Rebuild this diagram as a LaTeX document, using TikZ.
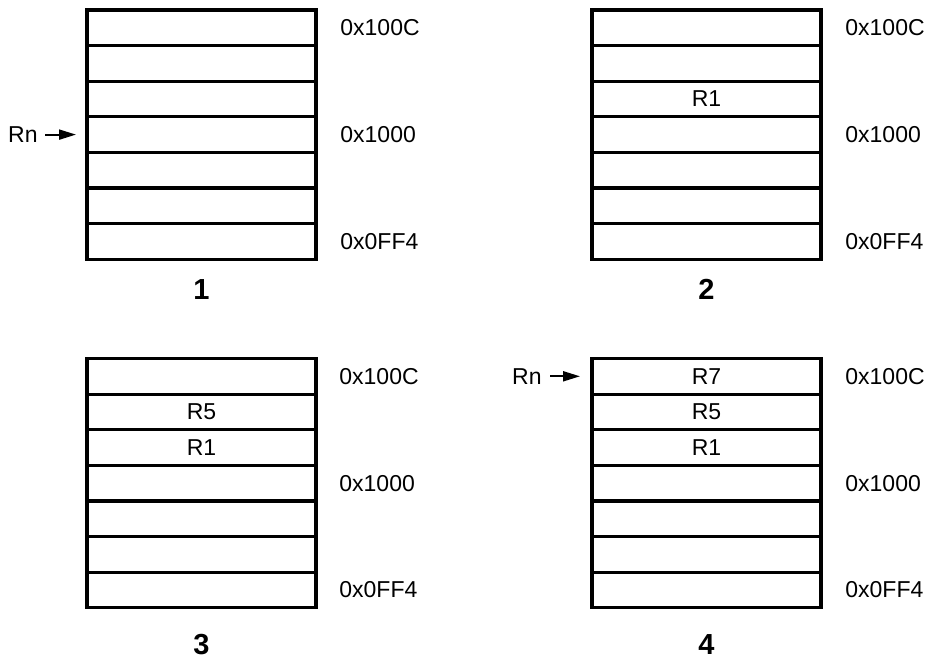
\documentclass[tikz,border=0pt]{standalone}
\usepackage{fontspec}
\setmainfont{Liberation Sans}
\usetikzlibrary{positioning, arrows.meta}
\tikzset{
  cell/.style={draw, line width=1.6pt, minimum width=114.5pt, minimum height=17.8pt, inner sep=0, outer sep=0},
  addr/.style={inner sep=0},
  caption/.style={inner sep=0, font=\bfseries\fontsize{14.5}{17}\selectfont},
  ptr/.style={-{Triangle[length=8.5pt, width=5pt]}, line width=1pt},
  every node/.style={font=\fontsize{11.5}{14}\selectfont}
}
\begin{document}
\begin{tikzpicture}[x=0.5pt, y=-0.5pt]
    \useasboundingbox (0,0) rectangle (934,659);
    % stack 1
    \foreach \i/\t in {1/,2/,3/,4/,5/,6/,7/}
      \node[cell] (a\i) at (201.5, {27.8+35.6*(\i-1)}) {\t};
    \node[addr, right=12pt of a1] (a1addr) {0x100C};
    \node[addr, right=12pt of a4] (a4addr) {0x1000};
    \node[addr, right=12pt of a7] (a7addr) {0x0FF4};
    \node[caption, below=10pt of a7] (cap1) {1};
    \node[inner sep=0, left=24.5pt of a4] (rn1) {Rn};
    \draw[ptr, shorten <=3.5pt, shorten >=5.5pt] (rn1) -- (a4);
    % stack 2
    \foreach \i/\t in {1/,2/,3/R1,4/,5/,6/,7/}
      \node[cell] (b\i) at (706.5, {27.8+35.6*(\i-1)}) {\t};
    \node[addr, right=12pt of b1] (b1addr) {0x100C};
    \node[addr, right=12pt of b4] (b4addr) {0x1000};
    \node[addr, right=12pt of b7] (b7addr) {0x0FF4};
    \node[caption, below=10pt of b7] (cap2) {2};
    % stack 3
    \foreach \i/\t in {1/,2/R5,3/R1,4/,5/,6/,7/}
      \node[cell] (c\i) at (201.5, {376.3+35.6*(\i-1)}) {\t};
    \node[addr, right=11.5pt of c1] (c1addr) {0x100C};
    \node[addr, right=11.5pt of c4] (c4addr) {0x1000};
    \node[addr, right=11.5pt of c7] (c7addr) {0x0FF4};
    \node[caption, below=13pt of c7] (cap3) {3};
    % stack 4
    \foreach \i/\t in {1/R7,2/R5,3/R1,4/,5/,6/,7/}
      \node[cell] (d\i) at (706.5, {376.3+35.6*(\i-1)}) {\t};
    \node[addr, right=12pt of d1] (d1addr) {0x100C};
    \node[addr, right=12pt of d4] (d4addr) {0x1000};
    \node[addr, right=12pt of d7] (d7addr) {0x0FF4};
    \node[caption, below=13pt of d7] (cap4) {4};
    \node[inner sep=0, left=25pt of d1] (rn4) {Rn};
    \draw[ptr, shorten <=4pt, shorten >=6pt] (rn4) -- (d1);
\end{tikzpicture}
\end{document}
